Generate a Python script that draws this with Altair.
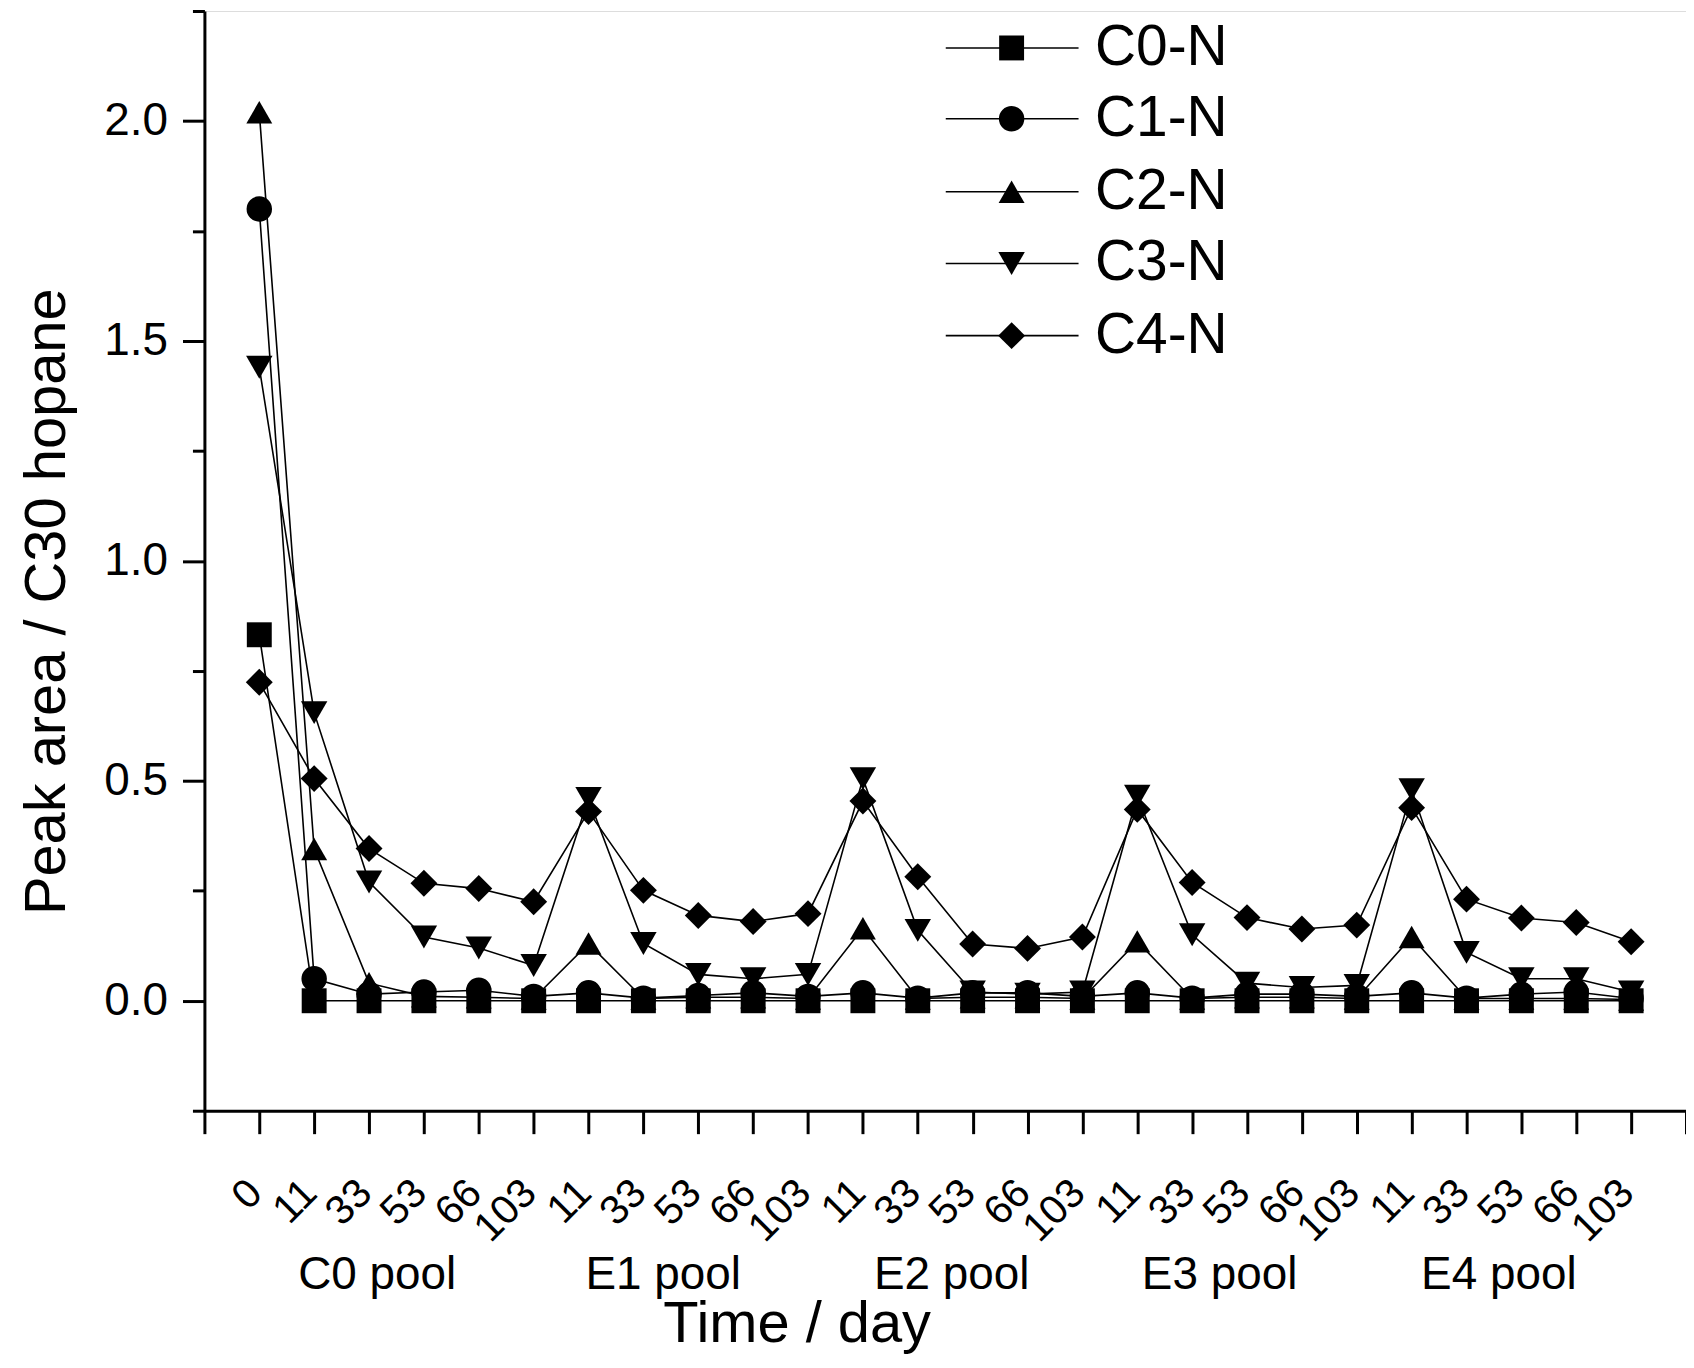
import json
import altair as alt
import pandas as pd

# ---------------- data ----------------
days = ["0", "11", "33", "53", "66", "103",
        "11", "33", "53", "66", "103",
        "11", "33", "53", "66", "103",
        "11", "33", "53", "66", "103",
        "11", "33", "53", "66", "103"]
pools = ["C0 pool", "E1 pool", "E2 pool", "E3 pool", "E4 pool"]
series_names = ["C0-N", "C1-N", "C2-N", "C3-N", "C4-N"]

c0 = [0.832, 0.0, 0.0, 0.0, 0.0, 0.0, 0.0, 0.0, 0.0, 0.0, 0.0, 0.0, 0.0,
      0.0, 0.0, 0.0, 0.0, 0.0, 0.0, 0.0, 0.0, 0.0, 0.0, 0.0, 0.0, 0.0]
c1 = [1.80, 0.05, 0.015, 0.02, 0.024, 0.01, 0.018, 0.006, 0.012, 0.018, 0.01,
      0.018, 0.006, 0.018, 0.018, 0.01, 0.018, 0.006, 0.015, 0.015, 0.01,
      0.018, 0.006, 0.015, 0.02, 0.005]
c2 = [2.02, 0.345, 0.04, 0.01, 0.008, 0.005, 0.13, 0.005, 0.008, 0.008, 0.005,
      0.165, 0.005, 0.008, 0.008, 0.005, 0.135, 0.005, 0.008, 0.008, 0.005,
      0.145, 0.005, 0.005, 0.005, 0.003]
c3 = [1.44, 0.655, 0.27, 0.145, 0.12, 0.08, 0.46, 0.13, 0.06, 0.05, 0.06,
      0.505, 0.16, 0.02, 0.015, 0.02, 0.465, 0.15, 0.04, 0.03, 0.035,
      0.48, 0.11, 0.05, 0.05, 0.02]
c4 = [0.724, 0.505, 0.346, 0.267, 0.255, 0.225, 0.43, 0.251, 0.194, 0.18, 0.198,
      0.454, 0.282, 0.129, 0.119, 0.145, 0.435, 0.269, 0.189, 0.163, 0.172,
      0.439, 0.231, 0.188, 0.178, 0.134]
all_series = [c0, c1, c2, c3, c4]

# annotation / legend placement (in data units)
pool_label_x = [2.15, 7.36, 12.62, 17.5, 22.59]
pool_label_y = -0.655
legend_y = [2.166, 2.005, 1.839, 1.676, 1.512]
legend_line_x = (12.51, 14.93)
legend_symbol_x = 13.71
legend_text_x = 15.23

# ---------------- tables ----------------
rows = []
for name, vals in zip(series_names, all_series):
    for i, v in enumerate(vals):
        rows.append({"series": name, "idx": i, "value": v})
df = pd.DataFrame(rows)
leg_df = pd.DataFrame({"series": series_names, "ly": legend_y})
pool_df = pd.DataFrame({"pool": pools, "px": pool_label_x})

FONT = "Liberation Sans"

x_scale = alt.Scale(domain=[-1, 26], nice=False, zero=False)
y_scale = alt.Scale(domain=[-0.25, 2.25], nice=False, zero=False)
shape_scale = alt.Scale(domain=series_names,
                        range=["square", "circle", "triangle-up", "triangle-down", "diamond"])
size_scale = alt.Scale(domain=series_names, range=[625, 729, 1089, 1089, 1156])

label_expr_x = ("datum.value >= 0 && datum.value <= 25 && datum.value % 1 === 0 ? "
                + json.dumps(days) + "[datum.value] : ''")

x_axis = alt.Axis(
    values=[k * 0.5 for k in range(-2, 53)],
    labelExpr=label_expr_x,
    labelAngle=315, labelAlign="right", labelBaseline="middle",
    labelFontSize=41, labelPadding=53, labelOffset=-4,
    labelOverlap=False, labelFlush=False, labelBound=False,
    tickSize={"condition": {"test": "datum.value % 1 === 0", "value": 23}, "value": 13},
    tickWidth=3, domainWidth=3, tickColor="black", domainColor="black",
    labelColor="black", grid=False,
    title="Time / day", titleFontSize=58, titleFontWeight="normal",
    titleX=594, titleY=231, titleBaseline="alphabetic", titleAlign="center",
    titleColor="black",
)
y_axis = alt.Axis(
    values=[k * 0.25 for k in range(-1, 10)],
    labelExpr="datum.value % 0.5 === 0 ? format(datum.value, '.1f') : ''",
    labelFontSize=46, labelPadding=15, labelOverlap=False, labelFlush=False,
    tickSize={"condition": {"test": "datum.value % 0.5 === 0", "value": 22}, "value": 12},
    tickWidth=3, domainWidth=3, tickColor="black", domainColor="black",
    labelColor="black", grid=False,
    title="Peak area / C30 hopane", titleFontSize=58, titleFontWeight="normal",
    titleX=-140, titleY=592, titleAngle=270, titleBaseline="alphabetic",
    titleAlign="center", titleColor="black",
)

lines = alt.Chart(df).mark_line(color="black", strokeWidth=1.6).encode(
    x=alt.X("idx:Q", scale=x_scale, axis=x_axis),
    y=alt.Y("value:Q", scale=y_scale, axis=y_axis),
    detail="series:N",
    order="idx:Q",
)
points = alt.Chart(df).mark_point(filled=True, color="black", opacity=1, strokeWidth=0).encode(
    x="idx:Q",
    y="value:Q",
    shape=alt.Shape("series:N", scale=shape_scale, legend=None),
    size=alt.Size("series:N", scale=size_scale, legend=None),
)

leg_rule = alt.Chart(leg_df).mark_rule(color="black", strokeWidth=1.6).encode(
    x=alt.datum(legend_line_x[0]), x2=alt.datum(legend_line_x[1]), y="ly:Q"
)
leg_pts = alt.Chart(leg_df).mark_point(filled=True, color="black", opacity=1, strokeWidth=0).encode(
    x=alt.datum(legend_symbol_x), y="ly:Q",
    shape=alt.Shape("series:N", scale=shape_scale, legend=None),
    size=alt.Size("series:N", scale=size_scale, legend=None),
)
leg_txt = alt.Chart(leg_df).mark_text(align="left", baseline="middle", fontSize=57,
                                      font=FONT, color="black").encode(
    x=alt.datum(legend_text_x), y="ly:Q", text="series:N"
)
pool_txt = alt.Chart(pool_df).mark_text(align="center", baseline="alphabetic", fontSize=46,
                                        font=FONT, color="black", clip=False).encode(
    x="px:Q", y=alt.datum(pool_label_y), text="pool:N"
)

chart = alt.layer(lines, points, leg_rule, leg_pts, leg_txt, pool_txt).properties(
    width=1486, height=1103,
    padding={"left": 197, "top": 1, "right": 0, "bottom": 248},
    autosize=alt.AutoSizeParams(type="none"),
).configure_view(stroke=None).configure_axis(
    labelFont=FONT, titleFont=FONT
).configure(font=FONT)

chart.save("out.html", embed_options={"renderer": "svg", "actions": False})
